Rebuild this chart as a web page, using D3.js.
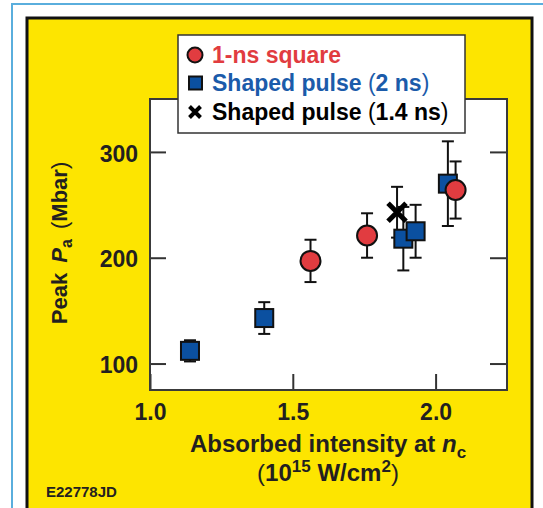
<!DOCTYPE html>
<html>
<head>
<meta charset="utf-8">
<script src="https://cdn.jsdelivr.net/npm/d3@7"></script>
<style>
  body { margin: 0; background: #fff; }
  svg { display: block; font-family: "Liberation Sans", Arial, sans-serif; }
  .axis text { font-size: 23px; font-weight: bold; fill: #231f20; }
  .axis line { stroke: #333; stroke-width: 2; }
</style>
</head>
<body>
<svg id="svg" width="543" height="508"></svg>
<script>
// DATA //

// 1-ns square pulses
const squareX = [1.562, 1.76, 2.07];
const squareY = [197, 221, 264];
const squareErr = [20, 21, 27];

// Shaped pulse (2 ns)
const shapedX = [1.14, 1.40, 1.887, 1.93, 2.043];
const shapedY = [112, 143, 218, 225, 270];
const shapedErr = [10, 15, 30, 25, 40];

// Shaped pulse (1.4 ns)
const shortX = [1.865];
const shortY = [243];
const shortErr = [24];

const xTicks = [1.0, 1.5, 2.0];
const yTicks = [100, 200, 300];

const legendItems = ["1-ns square", "Shaped pulse (2 ns)", "Shaped pulse (1.4 ns)"];

// Colours
const yellow = "#fde500";
const red = "#e13c40";
const blue = "#0b50a0";
const ink = "#231f20";

// MAIN //

const svg = d3.select("#svg");

// Plot box
let plot = {left: 150, right: 507, top: 99, bottom: 390};

let x = d3.scaleLinear().domain([1.0, 2.25]).range([plot.left, plot.right]);
let y = d3.scaleLinear().domain([75, 350]).range([plot.bottom, plot.top]);

// Outer frame lines
svg.append("rect")
  .attr("x", 12).attr("y", 4)
  .attr("width", 600).attr("height", 600)
  .attr("fill", "#fff")
  .attr("stroke", "#5aaedd")
  .attr("stroke-width", 2);

// Yellow panel
svg.append("rect")
  .attr("x", 27).attr("y", 18)
  .attr("width", 505).attr("height", 520)
  .attr("fill", yellow)
  .attr("stroke", "#111")
  .attr("stroke-width", 3);

// White plot area
svg.append("rect")
  .attr("x", plot.left).attr("y", plot.top)
  .attr("width", plot.right - plot.left)
  .attr("height", plot.bottom - plot.top)
  .attr("fill", "#fff");

// Axes (ticks point inward)
svg.append("g")
  .attr("class", "axis")
  .attr("transform", `translate(${plot.left},0)`)
  .call(d3.axisLeft(y).tickValues(yTicks).tickSize(-16).tickPadding(12))
  .call(g => g.select(".domain").remove())
  .call(g => g.selectAll("text").attr("dy", "0.4em"));

svg.append("g")
  .attr("class", "axis")
  .attr("transform", `translate(${plot.right},0)`)
  .call(d3.axisRight(y).tickValues(yTicks).tickSize(-17).tickFormat(""))
  .call(g => g.select(".domain").remove());

svg.append("g")
  .attr("class", "axis")
  .attr("transform", `translate(0,${plot.bottom})`)
  .call(d3.axisBottom(x).tickValues(xTicks).tickSize(-16).tickPadding(14).tickFormat(d3.format(".1f")))
  .call(g => g.select(".domain").remove());

// Plot border on top of ticks
svg.append("rect")
  .attr("x", plot.left).attr("y", plot.top)
  .attr("width", plot.right - plot.left)
  .attr("height", plot.bottom - plot.top)
  .attr("fill", "none")
  .attr("stroke", "#3a3a3a")
  .attr("stroke-width", 2);

// Build point tables
let toPoints = (xs, ys, es) => xs.map((d, i) => ({x: d, y: ys[i], e: es[i]}));
let squarePts = toPoints(squareX, squareY, squareErr);
let shapedPts = toPoints(shapedX, shapedY, shapedErr);
let shortPts = toPoints(shortX, shortY, shortErr);

// Error bars, all drawn under the markers
let capW = 6;
let bars = svg.append("g")
  .attr("stroke", "#111")
  .attr("stroke-width", 2)
  .selectAll("g")
  .data([...shapedPts, ...squarePts, ...shortPts])
  .enter()
  .append("g");

bars.append("line")
  .attr("x1", d => x(d.x)).attr("x2", d => x(d.x))
  .attr("y1", d => y(d.y - d.e)).attr("y2", d => y(d.y + d.e));
bars.append("line")
  .attr("x1", d => x(d.x) - capW).attr("x2", d => x(d.x) + capW)
  .attr("y1", d => y(d.y + d.e)).attr("y2", d => y(d.y + d.e));
bars.append("line")
  .attr("x1", d => x(d.x) - capW).attr("x2", d => x(d.x) + capW)
  .attr("y1", d => y(d.y - d.e)).attr("y2", d => y(d.y - d.e));

// Markers
let sq = 18;
svg.append("g")
  .selectAll("rect")
  .data(shapedPts)
  .enter()
  .append("rect")
  .attr("x", d => x(d.x) - sq / 2)
  .attr("y", d => y(d.y) - sq / 2)
  .attr("width", sq).attr("height", sq)
  .attr("fill", blue)
  .attr("stroke", "#111")
  .attr("stroke-width", 2);

svg.append("g")
  .selectAll("circle")
  .data(squarePts)
  .enter()
  .append("circle")
  .attr("cx", d => x(d.x))
  .attr("cy", d => y(d.y))
  .attr("r", 10)
  .attr("fill", red)
  .attr("stroke", "#111")
  .attr("stroke-width", 2);

function cross(g, cx, cy, h, w) {
  g.append("path")
    .attr("d", `M${cx - h},${cy - h}L${cx + h},${cy + h}M${cx - h},${cy + h}L${cx + h},${cy - h}`)
    .attr("stroke", "#000")
    .attr("stroke-width", w)
    .attr("fill", "none");
}

let crossG = svg.append("g");
shortPts.forEach(d => cross(crossG, x(d.x), y(d.y), 9, 5));

// Legend
let legend = svg.append("g").attr("class", "legend");

legend.append("rect")
  .attr("x", 178).attr("y", 35)
  .attr("width", 287).attr("height", 98)
  .attr("fill", "#fff")
  .attr("stroke", "#333")
  .attr("stroke-width", 1.5);

let rowY = [55, 83, 112];
let rowColor = [red, "#1b5baa", "#000"];

legend.append("circle")
  .attr("cx", 195).attr("cy", rowY[0]).attr("r", 7.5)
  .attr("fill", red).attr("stroke", "#111").attr("stroke-width", 2);
legend.append("rect")
  .attr("x", 189).attr("y", rowY[1] - 6.5).attr("width", 13).attr("height", 13)
  .attr("fill", blue).attr("stroke", "#111").attr("stroke-width", 2);
cross(legend, 195, rowY[2], 5.5, 4);

legendItems.forEach((label, i) => {
  let t = legend.append("text")
    .attr("x", 212)
    .attr("y", rowY[i] + 8)
    .attr("fill", rowColor[i])
    .style("font-size", "23px")
    .style("font-weight", "bold");
  // parentheses are set in the lighter weight
  label.split(/([()])/).filter(s => s.length).forEach(s => {
    t.append("tspan")
      .style("font-weight", s === "(" || s === ")" ? "normal" : "bold")
      .text(s);
  });
});

// Y axis title
let yTitle = svg.append("text")
  .attr("transform", "translate(67,243) rotate(-90)")
  .attr("text-anchor", "middle")
  .attr("fill", ink)
  .style("font-size", "22px")
  .style("font-weight", "bold")
  .style("word-spacing", "4px");
yTitle.append("tspan").text("Peak ");
yTitle.append("tspan").style("font-style", "italic").text("P");
yTitle.append("tspan").attr("dy", 5).style("font-size", "16px").text("a");
yTitle.append("tspan").attr("dy", -5).style("font-weight", "normal").text(" (");
yTitle.append("tspan").text("Mbar");
yTitle.append("tspan").style("font-weight", "normal").text(")");

// X axis title
let xTitle = svg.append("text")
  .attr("x", 328).attr("y", 452)
  .attr("text-anchor", "middle")
  .attr("fill", ink)
  .style("font-size", "24px")
  .style("font-weight", "bold");
xTitle.append("tspan").text("Absorbed intensity at ");
xTitle.append("tspan").style("font-style", "italic").text("n");
xTitle.append("tspan").attr("dy", 6).style("font-size", "17px").text("c");

let xUnit = svg.append("text")
  .attr("x", 328).attr("y", 481)
  .attr("text-anchor", "middle")
  .attr("fill", ink)
  .style("font-size", "24px")
  .style("font-weight", "bold");
xUnit.append("tspan").style("font-weight", "normal").text("(");
xUnit.append("tspan").text("10");
xUnit.append("tspan").attr("dy", -9).style("font-size", "17px").text("15");
xUnit.append("tspan").attr("dy", 9).text(" W/cm");
xUnit.append("tspan").attr("dy", -9).style("font-size", "17px").text("2");
xUnit.append("tspan").attr("dy", 9).style("font-weight", "normal").text(")");

// Figure code
svg.append("text")
  .attr("x", 46).attr("y", 497)
  .attr("fill", ink)
  .style("font-size", "15px")
  .style("font-weight", "bold")
  .text("E22778JD");
</script>
</body>
</html>
